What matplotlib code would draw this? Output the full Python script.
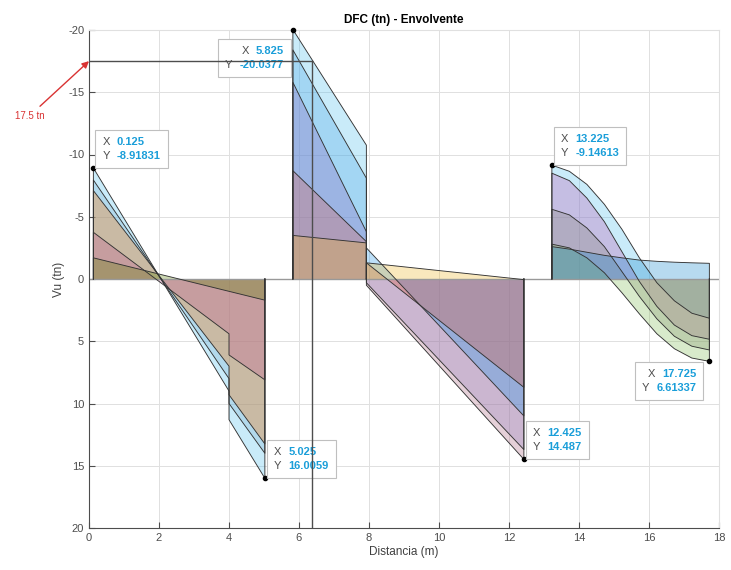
import matplotlib
matplotlib.use("Agg")
import matplotlib.pyplot as plt
from matplotlib.offsetbox import TextArea, HPacker, VPacker, AnnotationBbox

plt.rcParams['font.family'] = ['Liberation Sans', 'DejaVu Sans']
plt.rcParams['axes.unicode_minus'] = False

# span 1 (point load at x = 4)
x_span1 = [0.125, 4.0, 4.0, 5.025]
v_span1 = [
    [-8.918, 9.0, 11.3, 16.006],
    [-7.95, 8.0, 10.0, 14.0],
    [-7.1, 7.0, 9.3, 13.25],
    [-3.75, 4.4, 6.1, 8.1],
    [-1.7, 0.99, 0.99, 1.7],
]
c_span1 = [(0.30, 0.745, 0.933), (0.49, 0.69, 0.81), (1.0, 0.45, 0.0),
           (0.76, 0.36, 0.58), (0.35, 0.50, 0.0)]

# span 2, left of point load
x_span2a = [5.825, 7.925]
v_span2a = [
    [-20.038, -10.75],
    [-18.4, -8.1],
    [-15.8, -3.8],
    [-8.7, -3.0],
    [-3.5, -2.9],
]
c_span2a = [(0.30, 0.745, 0.933), (0.30, 0.65, 0.90), (0.55, 0.40, 0.75),
            (0.85, 0.40, 0.35), (0.93, 0.70, 0.15)]

# span 2, right of point load
x_span2b = [7.925, 12.425]
v_span2b = [
    [0.5, 14.487],
    [0.3, 13.7],
    [-2.5, 11.0],
    [-1.3, 8.7],
    [-1.3, 0.05],
]
c_span2b = [(0.67, 0.40, 0.50), (0.57, 0.49, 0.75), (0.13, 0.59, 0.92),
            (0.87, 0.35, 0.22), (0.93, 0.70, 0.15)]

# span 3
x_span3 = [13.225, 13.725, 14.225, 14.725, 15.225, 15.725, 16.225, 16.725, 17.225, 17.725]
v_span3 = [
    [-9.146, -8.65, -7.6, -6.0, -4.0, -1.7, 0.3, 1.75, 2.75, 3.15],
    [-8.5, -7.9, -6.5, -4.6, -2.2, 0.2, 2.2, 3.7, 4.55, 4.84],
    [-5.6, -5.15, -4.1, -2.6, -0.6, 1.4, 3.2, 4.6, 5.4, 5.7],
    [-2.8, -2.5, -1.7, -0.5, 1.1, 2.8, 4.4, 5.6, 6.35, 6.613],
    [-2.6, -2.4, -2.15, -1.9, -1.7, -1.52, -1.42, -1.35, -1.3, -1.26],
]
c_span3 = [(0.30, 0.745, 0.933), (0.75, 0.35, 0.70), (0.52, 0.52, 0.47),
           (0.50, 0.73, 0.33), (0.07, 0.53, 0.80)]

# data tips
tip_x = [0.125, 5.825, 13.225, 17.725, 12.425, 5.025]
tip_y = [-8.91831, -20.0377, -9.14613, 6.61337, 14.487, 16.0059]
tip_xs = ["0.125", "5.825", "13.225", "17.725", "12.425", "5.025"]
tip_ys = ["-8.91831", "-20.0377", "-9.14613", "6.61337", "14.487", "16.0059"]
tip_side = ["ur", "ll", "ur", "ll", "ur", "ur"]
tip_off = [(6.5, 5), (-6.5, -11.5), (6.5, 5), (-9.5, -5.5), (6.5, 5), (6.5, 5)]

limit_v = -17.5
limit_x = 6.375

fig = plt.figure(figsize=(7.31, 5.70), dpi=100)
ax = fig.add_axes([89 / 731, 42 / 570, 630 / 731, 498 / 570])

ax.set_xlim(0, 18)
ax.set_ylim(20, -20)
ax.set_xticks(range(0, 19, 2))
ax.set_yticks(range(-20, 21, 5))
ax.grid(True, color=(0.88, 0.88, 0.88), linewidth=0.7)
ax.set_axisbelow(True)

for xs, vals, cols in [(x_span1, v_span1, c_span1), (x_span2a, v_span2a, c_span2a),
                       (x_span2b, v_span2b, c_span2b), (x_span3, v_span3, c_span3)]:
    for v, c in zip(vals, cols):
        ax.fill_between(xs, 0, v, facecolor=c, alpha=0.3, edgecolor='none', zorder=2)
        ax.plot([xs[0]] + xs + [xs[-1]], [0] + v + [0], color=(0.2, 0.2, 0.2),
                lw=0.65, zorder=3)

ax.axhline(0, color=(0.6, 0.6, 0.6), lw=1.0, zorder=2.5)

# limit lines (drawn over the data tips, as in the original)
ax.plot([0, limit_x], [limit_v, limit_v], color=(0.3, 0.3, 0.3), lw=1.0, zorder=8)
ax.plot([limit_x, limit_x], [limit_v, 20], color=(0.3, 0.3, 0.3), lw=1.0, zorder=8)

ax.annotate("17.5 tn", xy=(0, limit_v), xytext=(-1.7, -13.1), color=(0.85, 0.2, 0.2),
            fontsize=7, ha='center', va='center', annotation_clip=False,
            arrowprops=dict(arrowstyle='-|>', color=(0.85, 0.2, 0.2), lw=1.0,
                            mutation_scale=10, shrinkA=2, shrinkB=0))

# data tips
for x, y, sx, sy, side, off in zip(tip_x, tip_y, tip_xs, tip_ys, tip_side, tip_off):
    ax.plot(x, y, 'o', color='k', ms=3, zorder=6, clip_on=False)
    lab = dict(color=(0.3, 0.3, 0.3), fontsize=8)
    val = dict(color=(0.1, 0.62, 0.85), fontsize=8, fontweight='bold')
    al = 'left' if side == 'ur' else 'right'
    rows = [HPacker(children=[TextArea("X", textprops=lab), TextArea(sx, textprops=val)],
                    sep=5, align='baseline'),
            HPacker(children=[TextArea("Y", textprops=lab), TextArea(sy, textprops=val)],
                    sep=5, align='baseline')]
    box = VPacker(children=rows, sep=3, align=al, pad=0)
    frame = dict(facecolor='white', edgecolor=(0.75, 0.75, 0.75), lw=0.8)
    corner = (0, 0) if side == 'ur' else (1, 1)
    ab = AnnotationBbox(box, (x, y), xybox=off, boxcoords='offset points',
                        box_alignment=corner, pad=0.5, frameon=True, bboxprops=frame)
    ab.set_zorder(7)
    ax.add_artist(ab)

for s in ['left', 'bottom']:
    ax.spines[s].set_color((0.3, 0.3, 0.3))
for s in ['top', 'right']:
    ax.spines[s].set_color((0.88, 0.88, 0.88))
ax.tick_params(direction='in', length=4, labelsize=8, colors=(0.3, 0.3, 0.3),
               top=False, right=False)

ax.set_xlabel("Distancia (m)", fontsize=8.5, color=(0.25, 0.25, 0.25), labelpad=2)
ax.set_ylabel("Vu (tn)", fontsize=8.5, color=(0.25, 0.25, 0.25), labelpad=2)
ax.set_title("DFC (tn) - Envolvente", fontsize=8.5, fontweight='bold', pad=5)

fig.savefig("out.png", dpi=100)
